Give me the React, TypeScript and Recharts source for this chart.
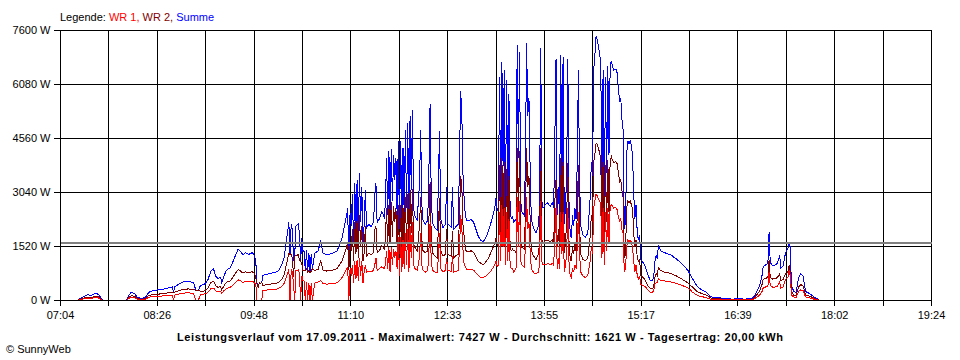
import { LineChart, Line, XAxis, YAxis, CartesianGrid, ReferenceLine } from 'recharts';

// minutes since midnight
const times = [
  438, 441, 444, 447, 450, 453, 456, 458, 460, 470,
  480, 482, 484, 487, 489, 492, 496, 499, 502, 505,
  509, 513, 517, 519, 520, 521, 524, 529, 533, 537,
  539, 541, 543, 546, 549, 552, 554, 556, 558, 560,
  561, 563, 565, 568, 570, 573, 575, 577, 579, 581,
  584, 587, 589, 590, 591, 592, 593, 594, 595, 596,
  598, 601, 604, 607, 609, 612, 614, 616, 618, 619,
  620, 621, 622, 623, 624, 626, 627, 628, 629, 630,
  631, 632, 633, 634, 635, 636, 637, 638, 640, 643,
  645, 647, 650, 653, 656, 659, 661, 663, 665, 667,
  668, 669, 670, 671, 672, 673, 674, 675, 676, 677,
  678, 679, 680, 681, 682, 683, 684, 686, 688, 690,
  691, 692, 693, 695, 697, 699, 700, 701, 702, 703,
  704, 705, 706, 707, 708, 709, 710, 711, 712, 713,
  714, 715, 716, 717, 718, 719, 720, 721, 722, 723,
  724, 725, 727, 729, 730, 731, 732, 734, 736, 737,
  738, 739, 740, 742, 744, 745, 746, 747, 749, 751,
  752, 753, 756, 757, 758, 760, 762, 763, 764, 765,
  766, 767, 768, 769, 771, 773, 775, 777, 779, 781,
  783, 785, 787, 789, 791, 793, 794, 795, 796, 797,
  798, 799, 800, 801, 802, 803, 804, 805, 806, 807,
  808, 809, 810, 811, 812, 813, 814, 815, 816, 818,
  819, 820, 821, 822, 823, 824, 826, 828, 830, 831,
  832, 833, 834, 836, 838, 840, 842, 843, 844, 845,
  846, 847, 848, 849, 850, 851, 852, 853, 854, 855,
  856, 857, 858, 859, 860, 861, 862, 863, 864, 865,
  866, 868, 870, 872, 874, 875, 876, 877, 878, 879,
  880, 881, 882, 883, 884, 885, 886, 887, 888, 889,
  890, 891, 892, 893, 894, 895, 896, 897, 898, 899,
  900, 901, 902, 903, 904, 905, 906, 907, 908, 909,
  910, 911, 912, 913, 914, 915, 916, 917, 919, 921,
  923, 925, 927, 928, 929, 930, 931, 932, 933, 934,
  937, 940, 943, 945, 948, 951, 954, 957, 959, 961,
  963, 965, 967, 970, 972, 974, 976, 978, 981, 984,
  987, 990, 995, 1000, 1005, 1010, 1013, 1016, 1018, 1020,
  1021, 1023, 1025, 1026, 1027, 1029, 1031, 1033, 1035, 1036,
  1038, 1040, 1042, 1043, 1044, 1045, 1047, 1049, 1051, 1053,
  1055, 1057, 1059, 1062, 1065, 1068, 1069,
];

const wr1 = [
  0, 25, 50, 65, 60, 80, 75, 40, 0, null,
  0, 60, 90, 80, 40, 25, 30, 90, 110, 115,
  125, 130, 145, 150, 0, 150, 180, 210, 215, 200,
  0, 0, 170, 180, 220, 340, 350, 270, 250, 260,
  200, 280, 340, 370, 420, 520, 580, 550, 510, 540,
  520, 540, 500, 420, 0, 0, 0, 0, 0, 280,
  290, 300, 310, 320, 330, 400, 480, 680, 880, 0,
  860, 800, 440, 0, 840, 860, 760, 0, 700, 560,
  550, 0, 520, 0, 500, 0, 480, 0, 490, 520,
  560, 480, 460, 470, 480, 500, 560, 640, 750, 880,
  950, 0, 900, 700, 1000, 500, 1100, 600, 1150, 550,
  1200, 700, 1100, 500, 820, 1000, 800, 820, 800, 850,
  1000, 1200, 850, 900, 950, 900, 1000, 1400, 900, 1500,
  800, 1500, 1000, 1450, 1200, 1400, 900, 1800, 700, 1800,
  800, 1700, 900, 1900, 1000, 2000, 800, 2100, 1200, 2200,
  1000, 900, 850, 1200, 1900, 1000, 850, 800, 850, 1400,
  2200, 1100, 850, 800, 780, 1200, 1900, 900, 800, 850,
  1200, 850, 820, 1250, 800, 820, 850, 1500, 2400, 2000,
  1400, 1000, 950, 880, 870, 880, 850, 780, 700, 650,
  650, 680, 740, 800, 900, 1000, 1100, 950, 1000, 2500,
  1100, 2700, 1500, 2600, 1000, 2500, 1100, 2300, 1000, 900,
  900, 800, 850, 900, 2900, 1500, 2800, 1100, 1000, 950,
  1500, 2900, 2000, 2200, 1400, 900, 780, 750, 800, 1000,
  2800, 1100, 1000, 1000, 1050, 1000, 1050, 1000, 1800, 2600,
  900, 1200, 900, 2500, 1300, 2500, 800, 1000, 1300, 2600,
  1100, 700, 650, 900, 800, 1000, 900, 1500, 2500, 1300,
  800, 680, 650, 700, 1100, 1500, 1300, 2600, 2800, 3000,
  2950, 2850, 2800, 2700, 1200, 2600, 1000, 2500, 1400, 2600,
  1600, 2650, 2700, 2650, 2600, 2620, 2600, 2550, 2350, 2250,
  2300, 2000, 1900, 800, 900, 1500, 1700, 1650, 1700, 1650,
  1500, 1100, 800, 1000, 700, 600, 700, 450, 420, 380,
  300, 230, 230, 280, 450, 500, 500, 620, 580, 560,
  550, 530, 520, 500, 470, 440, 400, 350, 300, 230,
  190, 150, 120, 100, 90, 60, 40, 30, 30, 30,
  20, 20, 15, 20, 15, 20, 40, 100, 150, 250,
  350, 380, 400, 800, 420, 380, 380, 400, 520, 350,
  380, 600, 650, 850, 700, 150, 100, 90, 250, 300,
  280, 100, 80, 60, 30, 10, 0,
];

const wr2 = [
  0, 35, 70, 95, 85, 115, 105, 55, 0, null,
  0, 90, 135, 120, 60, 35, 50, 140, 165, 175,
  185, 200, 225, 230, 230, 235, 270, 320, 325, 300,
  290, 280, 260, 265, 340, 510, 540, 410, 370, 390,
  300, 420, 510, 550, 630, 780, 870, 830, 770, 810,
  780, 810, 750, 630, 450, 380, 500, 480, 500, 420,
  440, 450, 470, 480, 500, 600, 720, 1020, 1320, 1300,
  1290, 1200, 660, 1250, 1260, 1290, 1140, 1100, 1050, 840,
  830, 850, 900, 800, 850, 780, 820, 900, 840, 880,
  1130, 850, 830, 840, 860, 900, 1000, 1100, 1300, 1500,
  1650, 850, 1550, 1400, 2000, 1100, 2200, 1300, 2250, 1200,
  2400, 1500, 2100, 1100, 1330, 2100, 1250, 1330, 1280, 1350,
  2000, 2100, 1350, 1400, 1550, 1450, 1700, 2600, 1500, 2700,
  1600, 2770, 1800, 2650, 2200, 2600, 1500, 2700, 1300, 2700,
  1400, 2600, 1500, 2900, 1600, 3000, 1300, 3100, 1900, 3150,
  1600, 1500, 1400, 2100, 2900, 1700, 1400, 1350, 1400, 2300,
  3340, 1800, 1350, 1250, 1200, 2000, 2880, 1400, 1250, 1300,
  2000, 1300, 1250, 1950, 1200, 1260, 1300, 2500, 3500, 3200,
  2100, 1800, 1450, 1370, 1380, 1400, 1350, 1220, 1100, 1050,
  1000, 1070, 1160, 1300, 1450, 1620, 1770, 1600, 1500, 3800,
  1600, 4000, 2300, 3900, 1500, 3700, 1600, 3500, 1500, 1400,
  1450, 1400, 1400, 1350, 4280, 2500, 4200, 1700, 1500, 1450,
  2400, 4300, 3200, 3500, 2300, 1400, 1250, 1150, 1300, 1600,
  4300, 1700, 1600, 1700, 1700, 1650, 1700, 1600, 2800, 3400,
  1500, 2000, 1400, 4000, 2000, 3900, 1350, 1600, 2200, 3860,
  1700, 1200, 1100, 1500, 1300, 1600, 1400, 2400, 3800, 2100,
  1300, 1150, 1130, 1200, 1800, 2400, 2200, 3900, 4100, 4420,
  4400, 4300, 4150, 4000, 1800, 3900, 1500, 3800, 2200, 3950,
  2500, 3950, 4050, 3950, 3880, 3900, 3900, 3850, 3600, 3350,
  3400, 3100, 2900, 1200, 1300, 2600, 2800, 2750, 2800, 2700,
  2600, 1900, 1500, 1700, 1200, 1100, 1150, 700, 650, 560,
  420, 340, 330, 400, 650, 760, 700, 930, 880, 840,
  800, 780, 760, 720, 680, 620, 560, 500, 430, 380,
  310, 250, 220, 180, 160, 130, 80, 60, 50, 50,
  30, 30, 25, 30, 25, 30, 60, 180, 260, 450,
  600, 620, 650, 1130, 650, 600, 620, 640, 750, 560,
  600, 750, 800, 990, 800, 280, 150, 140, 380, 450,
  400, 150, 140, 100, 50, 15, 0,
];

const summe = [
  0, 60, 120, 160, 145, 195, 180, 95, 0, null,
  0, 150, 225, 200, 100, 60, 80, 230, 275, 290,
  310, 330, 370, 380, 230, 385, 450, 530, 540, 500,
  290, 280, 430, 445, 560, 850, 890, 680, 620, 650,
  500, 700, 850, 920, 1050, 1300, 1450, 1380, 1280, 1350,
  1300, 1350, 1250, 1050, 450, 380, 500, 480, 500, 700,
  730, 750, 780, 800, 830, 1000, 1200, 1700, 2200, 1300,
  2150, 2000, 1100, 1250, 2100, 2150, 1900, 1100, 1750, 1400,
  1380, 850, 1420, 800, 1350, 780, 1300, 900, 1330, 1400,
  1690, 1330, 1290, 1310, 1340, 1400, 1560, 1740, 2050, 2380,
  2600, 850, 2450, 2100, 3000, 1600, 3300, 1900, 3400, 1750,
  3600, 2200, 3200, 1600, 2150, 3100, 2050, 2150, 2080, 2200,
  3000, 3300, 2200, 2300, 2500, 2350, 2700, 4000, 2400, 4200,
  2400, 4270, 2800, 4100, 3400, 4000, 2400, 4500, 2000, 4500,
  2200, 4300, 2400, 4800, 2600, 5000, 2100, 5200, 3100, 5350,
  2600, 2400, 2250, 3300, 4800, 2700, 2250, 2150, 2250, 3700,
  5540, 2900, 2200, 2050, 1980, 3200, 4780, 2300, 2050, 2150,
  3200, 2150, 2070, 3200, 2000, 2080, 2150, 4000, 5900, 5200,
  3500, 2800, 2400, 2250, 2250, 2280, 2200, 2000, 1800, 1700,
  1650, 1750, 1900, 2100, 2350, 2620, 2870, 2550, 2500, 6300,
  2700, 6700, 3800, 6500, 2500, 6200, 2700, 5800, 2500, 2300,
  2350, 2200, 2250, 2250, 7180, 4000, 7000, 2800, 2500, 2400,
  3900, 7260, 5200, 5700, 3700, 2300, 2030, 1900, 2100, 2600,
  7100, 2800, 2600, 2700, 2750, 2650, 2750, 2600, 4600, 6800,
  2400, 3200, 2300, 6900, 3300, 6850, 2150, 2600, 3500, 6800,
  2800, 1900, 1750, 2400, 2100, 2600, 2300, 3900, 6500, 3400,
  2100, 1830, 1780, 1900, 2900, 3900, 3500, 6500, 6900, 7427,
  7350, 7150, 6950, 6700, 3000, 6500, 2500, 6300, 3600, 6600,
  4100, 6600, 6750, 6600, 6480, 6520, 6500, 6400, 5950, 5600,
  5700, 5100, 4800, 2000, 2200, 4100, 4500, 4400, 4500, 4350,
  4100, 3000, 2300, 2700, 1900, 1700, 1850, 1150, 1070, 940,
  720, 570, 560, 680, 1100, 1260, 1200, 1550, 1460, 1400,
  1350, 1310, 1280, 1220, 1150, 1060, 960, 850, 730, 610,
  500, 400, 340, 280, 250, 190, 120, 90, 80, 80,
  50, 50, 40, 50, 40, 50, 100, 280, 410, 700,
  950, 1000, 1050, 1920, 1070, 980, 1000, 1040, 1270, 910,
  980, 1350, 1450, 1630, 1500, 430, 250, 230, 630, 750,
  680, 250, 220, 160, 80, 25, 0,
];

const xLabels = ['07:04', '08:26', '09:48', '11:10', '12:33', '13:55', '15:17', '16:39', '18:02', '19:24'];
const yTicks = [0, 1520, 3040, 4560, 6080, 7600];
const average = 1621;

const X_START = 424;
const X_END = 1164;
// one grid line every half label step
const xTicks = Array.from({ length: 19 }, (_, i) => X_START + (i * (X_END - X_START)) / 18);

const data = times.map((t, i) => ({ t, wr1: wr1[i], wr2: wr2[i], summe: summe[i] }));

const font = '"Liberation Sans", Arial, sans-serif';

export default function App() {
  return (
    <div style={{ position: 'absolute', left: 0, top: 0, width: 960, height: 360, background: '#fff', fontFamily: font }}>
      <style>{`
        .recharts-cartesian-grid line, .recharts-cartesian-axis line, .recharts-reference-line line,
        .recharts-line-curve { shape-rendering: crispEdges; }
      `}</style>
      <LineChart width={960} height={360} data={data} margin={{ top: 30.5, right: 28.5, bottom: 29.5, left: 0.5 }}>
        <XAxis
          dataKey="t"
          type="number"
          domain={[X_START, X_END]}
          ticks={xTicks}
          interval={0}
          tickFormatter={(_v: number, i: number) => (i % 2 === 0 ? xLabels[i / 2] : '')}
          tickSize={5}
          tickMargin={6}
          height={30}
          stroke="#000"
          tick={{ fill: '#000', fontSize: 11, fontFamily: font }}
        />
        <YAxis
          type="number"
          domain={[0, 7600]}
          ticks={yTicks}
          interval={0}
          tickFormatter={(v: number) => `${v} W`}
          tickSize={7}
          tickMargin={3}
          width={60}
          stroke="#000"
          tick={{ fill: '#000', fontSize: 11, fontFamily: font }}
        />
        <Line type="linear" dataKey="summe" stroke="#0000ff" strokeWidth={1} dot={false} isAnimationActive={false} />
        <Line type="linear" dataKey="wr2" stroke="#800000" strokeWidth={1} dot={false} isAnimationActive={false} />
        <Line type="linear" dataKey="wr1" stroke="#ff0000" strokeWidth={1} dot={false} isAnimationActive={false} />
        <CartesianGrid stroke="#000" strokeWidth={1} fill="none" />
        <ReferenceLine y={average} stroke="#808080" strokeWidth={2} />
      </LineChart>
      <svg width={960} height={360} style={{ position: 'absolute', left: 0, top: 0, pointerEvents: 'none' }}>
        <text x={60} y={20.5} fontSize={11} fontFamily={font}>
          <tspan fill="#000">Legende: </tspan>
          <tspan fill="#ff0000">WR 1, </tspan>
          <tspan fill="#800000">WR 2, </tspan>
          <tspan fill="#0000ff">Summe</tspan>
        </text>
        <text
          x={480}
          y={340.5}
          fontSize={11}
          fontWeight="bold"
          fontFamily={font}
          textAnchor="middle"
          textLength={606}
          lengthAdjust="spacing"
          fill="#000"
        >
          Leistungsverlauf vom 17.09.2011 - Maximalwert: 7427 W - Durchschnitt: 1621 W - Tagesertrag: 20,00 kWh
        </text>
        <text x={6} y={352.5} fontSize={11} fontFamily={font} fill="#000">© SunnyWeb</text>
      </svg>
    </div>
  );
}
